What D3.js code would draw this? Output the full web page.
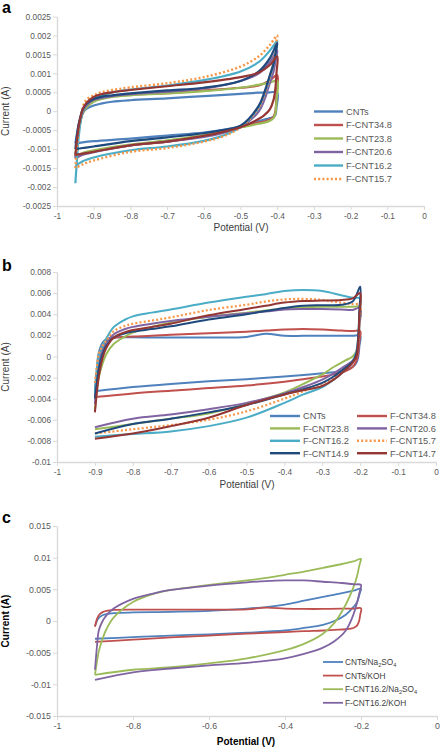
<!DOCTYPE html>
<html><head><meta charset="utf-8">
<script src="https://cdn.jsdelivr.net/npm/d3@7"></script>
<style>body{margin:0;background:#fff}svg{display:block;font-family:"Liberation Sans",Arial,sans-serif}</style>
</head><body><svg id="chart" width="442" height="750"></svg>
<script>
// ---------- Panel a (currents in mA) ----------
const aPotential = [-0.95,-0.945,-0.94,-0.93,-0.92,-0.9,-0.88,-0.85,-0.8,-0.7,-0.6,-0.5,-0.45,-0.42,-0.4,
  -0.402,-0.405,-0.41,-0.42,-0.435,-0.45,-0.5,-0.55,-0.6,-0.7,-0.8,-0.9,-0.93,-0.95];
const a_CNTs   = [-0.85,-0.55,-0.3,-0.05,0.06,0.15,0.2,0.25,0.29,0.34,0.4,0.46,0.49,0.5,0.5, 0.1,-0.1,-0.15,-0.18,-0.22,-0.26,-0.4,-0.5,-0.56,-0.64,-0.72,-0.79,-0.82,-0.85];
const a_FCNT348 = [-1.2,-0.8,-0.45,-0.05,0.12,0.28,0.35,0.4,0.44,0.48,0.55,0.62,0.68,0.82,0.95, 0.4,0.0,-0.15,-0.22,-0.27,-0.3,-0.42,-0.55,-0.65,-0.8,-0.9,-1.05,-1.12,-1.2];
const a_FCNT238 = [-1.2,-0.8,-0.45,-0.05,0.1,0.25,0.32,0.38,0.42,0.47,0.53,0.62,0.7,0.76,0.8, 0.3,-0.05,-0.18,-0.25,-0.3,-0.33,-0.43,-0.54,-0.63,-0.77,-0.88,-1.03,-1.1,-1.2];
const a_FCNT206 = [-1.25,-0.8,-0.45,-0.02,0.15,0.3,0.35,0.4,0.45,0.52,0.6,0.8,1.0,1.3,1.6, 1.45,1.3,1.05,0.75,0.3,0.0,-0.42,-0.58,-0.68,-0.8,-0.9,-1.08,-1.15,-1.25];
const a_FCNT162 = [-1.9,-1.2,-0.6,0.0,0.2,0.35,0.42,0.5,0.57,0.68,0.82,1.05,1.3,1.6,1.85, 1.7,1.5,1.25,0.9,0.45,0.1,-0.42,-0.65,-0.78,-0.93,-1.03,-1.22,-1.32,-1.45];
const a_FCNT157 = [-1.5,-0.9,-0.4,0.1,0.3,0.42,0.5,0.56,0.63,0.74,0.9,1.18,1.45,1.75,2.0, 1.85,1.6,1.3,0.9,0.45,0.1,-0.42,-0.67,-0.8,-0.97,-1.07,-1.3,-1.4,-1.5];
const a_FCNT149 = [-1.0,-0.6,-0.3,0.05,0.2,0.32,0.38,0.42,0.47,0.55,0.62,0.8,1.05,1.4,1.8, 1.65,1.5,1.25,0.95,0.5,0.15,-0.38,-0.5,-0.58,-0.69,-0.79,-0.93,-0.97,-1.0];
const a_FCNT147 = [-1.15,-0.7,-0.35,0.05,0.22,0.38,0.45,0.5,0.56,0.66,0.76,0.9,1.02,1.22,1.45, 1.0,0.6,0.3,0.05,-0.1,-0.2,-0.42,-0.55,-0.65,-0.8,-0.9,-1.07,-1.12,-1.15];
const aYTicks = [0.0025,0.002,0.0015,0.001,0.0005,0,-0.0005,-0.001,-0.0015,-0.002,-0.0025];
const aYLabels = ["0.0025","0.002","0.0015","0.001","0.0005","0","-0.0005","-0.001","-0.0015","-0.002","-0.0025"];

// ---------- Panel b (currents in mA) ----------
const bPotential = [-0.9,-0.895,-0.89,-0.88,-0.87,-0.85,-0.82,-0.8,-0.75,-0.7,-0.6,-0.5,-0.45,-0.4,-0.35,-0.3,-0.25,-0.22,-0.2,
  -0.202,-0.205,-0.21,-0.22,-0.24,-0.27,-0.3,-0.35,-0.4,-0.5,-0.6,-0.7,-0.8,-0.9];
const b_CNTs    = [-3.3,-1.2,0.3,1.3,1.65,1.8,1.82,1.82,1.8,1.8,1.8,1.85,2.15,1.95,1.95,1.95,1.95,1.95,1.95, 1.0,0.0,-0.6,-1.0,-1.3,-1.5,-1.6,-1.75,-1.9,-2.15,-2.35,-2.6,-2.9,-3.3];
const b_FCNT348 = [-3.8,-1.8,-0.2,1.0,1.5,1.75,1.85,1.9,1.95,2.05,2.2,2.35,2.45,2.55,2.6,2.55,2.45,2.4,2.4, 1.5,0.4,-0.4,-1.0,-1.4,-1.7,-1.9,-2.15,-2.4,-2.75,-3.0,-3.25,-3.5,-3.85];
const b_FCNT238 = [-5.2,-3.2,-2.0,-0.7,0.2,1.2,1.9,2.25,2.8,3.2,3.75,4.15,4.35,4.55,4.65,4.7,4.7,4.7,4.7, 3.0,1.5,0.5,0.0,-0.4,-1.0,-1.7,-2.6,-3.4,-4.5,-5.4,-5.9,-6.4,-6.9];
const b_FCNT206 = [-4.5,-2.5,-0.8,0.6,1.3,2.1,2.6,2.8,3.1,3.35,3.75,4.1,4.25,4.45,4.5,4.5,4.45,4.4,4.6, 3.0,1.2,0.2,-0.4,-0.9,-1.6,-2.2,-2.9,-3.5,-4.4,-5.0,-5.5,-5.9,-6.7];
const b_FCNT162 = [-3.5,-1.5,0.0,1.0,1.7,2.8,3.5,3.8,4.15,4.45,5.1,5.65,5.9,6.2,6.3,6.2,5.8,5.55,5.5, 4.0,2.0,0.5,-0.5,-1.3,-2.2,-2.9,-3.6,-4.4,-5.8,-6.6,-7.1,-7.35,-7.6];
const b_FCNT157 = [-2.5,-1.0,0.2,1.0,1.5,2.4,2.9,3.1,3.4,3.7,4.4,4.9,5.2,5.4,5.45,5.35,5.1,4.95,4.9, 3.5,1.5,0.3,-0.5,-1.2,-2.0,-2.6,-3.3,-4.0,-5.2,-6.0,-6.5,-6.9,-7.3];
const b_FCNT149 = [-4.0,-2.5,-1.2,0.2,1.0,1.8,2.2,2.35,2.6,2.85,3.5,4.0,4.3,4.6,4.8,4.85,4.9,5.2,6.6, 4.5,2.0,0.3,-0.5,-1.1,-1.9,-2.5,-3.1,-3.6,-4.6,-5.3,-5.9,-6.4,-7.3];
const b_FCNT147 = [-5.3,-3.5,-2.0,-0.2,0.8,1.8,2.3,2.5,2.8,3.1,3.9,4.5,4.8,5.1,5.25,5.3,5.35,5.5,6.0, 4.0,1.5,0.0,-0.6,-1.3,-2.2,-2.8,-3.2,-3.6,-4.6,-5.8,-6.6,-7.3,-7.8];
const bYTicks = [0.008,0.006,0.004,0.002,0,-0.002,-0.004,-0.006,-0.008,-0.01];
const bYLabels = ["0.008","0.006","0.004","0.002","0","-0.002","-0.004","-0.006","-0.008","-0.01"];

// ---------- Panel c (currents in mA) ----------
const cPotential = [-0.9,-0.895,-0.89,-0.88,-0.87,-0.85,-0.8,-0.75,-0.7,-0.6,-0.5,-0.45,-0.4,-0.35,-0.3,-0.25,-0.22,-0.2,
  -0.202,-0.205,-0.21,-0.22,-0.24,-0.27,-0.3,-0.35,-0.4,-0.5,-0.6,-0.7,-0.8,-0.9];
const c_CNTs_Na2SO4 = [-0.8,0.0,0.5,0.9,1.1,1.25,1.35,1.4,1.45,1.6,1.95,2.2,2.6,3.2,3.8,4.4,4.8,5.1, 4.6,4.0,3.0,2.2,1.0,0.0,-0.6,-1.1,-1.5,-1.85,-2.1,-2.3,-2.55,-2.8];
const c_CNTs_KOH    = [-0.9,0.3,0.9,1.4,1.6,1.75,1.8,1.8,1.8,1.8,1.85,2.1,1.95,1.9,1.9,1.95,1.95,2.0, 1.0,0.0,-0.7,-1.1,-1.3,-1.4,-1.5,-1.6,-1.75,-2.0,-2.3,-2.6,-2.95,-3.3];
const c_FCNT162_Na2SO4 = [-8.5,-6.5,-4.8,-2.8,-1.3,0.6,3.0,4.2,4.9,5.7,6.4,6.8,7.3,7.8,8.4,9.0,9.4,9.8, 9.3,8.6,7.2,5.3,2.6,-0.3,-2.0,-3.6,-4.6,-5.9,-6.7,-7.3,-7.7,-8.5];
const c_FCNT162_KOH = [-7.7,-4.1,-1.5,0.0,0.9,2.0,3.5,4.3,4.9,5.6,6.1,6.3,6.4,6.4,6.2,6.0,5.8,5.7, 5.0,4.2,3.0,1.0,-1.5,-3.2,-4.2,-5.2,-5.9,-6.6,-7.0,-7.5,-8.1,-9.3];
const cYTicks = [0.015,0.01,0.005,0,-0.005,-0.01,-0.015];
const cYLabels = ["0.015","0.01","0.005","0","-0.005","-0.01","-0.015"];

const abXTicks = [-1,-0.9,-0.8,-0.7,-0.6,-0.5,-0.4,-0.3,-0.2,-0.1,0];
const abXLabels = ["-1","-0.9","-0.8","-0.7","-0.6","-0.5","-0.4","-0.3","-0.2","-0.1","0"];
const cXTicks = [-1,-0.8,-0.6,-0.4,-0.2,0];
const cXLabels = ["-1","-0.8","-0.6","-0.4","-0.2","0"];

const C = {blue:"#4f81bd",red:"#c0504d",green:"#9bbb59",purple:"#8064a2",cyan:"#4bacc6",orange:"#f79646",navy:"#1f497d",maroon:"#943634"};

const svg = d3.select("#chart");

function panel(o){
  const x = d3.scaleLinear().domain([-1,0]).range(o.xr);
  const y = d3.scaleLinear().domain(o.yd).range(o.yr);
  const g = svg.append("g");
  const yb = o.yr[0];
  const ya = g.append("g").attr("transform",`translate(${o.xr[0]},0)`)
    .call(d3.axisLeft(y).tickValues(o.yTicks).tickFormat((d,i)=>o.yLabels[i]).tickSize(4).tickSizeOuter(0).tickPadding(2));
  const xa = g.append("g").attr("transform",`translate(0,${yb})`)
    .call(d3.axisBottom(x).tickValues(o.xTicks).tickFormat((d,i)=>o.xLabels[i]).tickSize(4).tickSizeOuter(0).tickPadding(3));
  [ya,xa].forEach(a=>{
    a.select(".domain").attr("stroke","#d9d9d9").attr("stroke-width",1.4);
    a.selectAll(".tick line").attr("stroke","#d9d9d9").attr("stroke-width",1);
    a.selectAll("text").attr("fill","#595959").attr("font-size",o.tickFs).attr("font-family","Liberation Sans, Arial, sans-serif");
  });
  const line = d3.line().x(d=>x(d[0])).y(d=>y(d[1]*1e-3)).curve(d3.curveCatmullRom.alpha(0.5));
  o.series.forEach(s=>{
    g.append("path").datum(d3.zip(o.V, s.I)).attr("d",line)
      .attr("fill","none").attr("stroke",s.c).attr("stroke-width",s.dot?o.sw+0.2:o.sw)
      .attr("stroke-dasharray",s.dot?"2,2.2":null).attr("stroke-linejoin","round");
  });
  g.append("text").attr("x",o.titleX).attr("y",o.titleY).attr("text-anchor","middle")
    .attr("font-size",10).attr("font-weight",o.bold?"bold":"normal").attr("fill",o.bold?"#000":"#404040").text("Potential (V)");
  g.append("text").attr("transform",`translate(9,${(o.yr[0]+o.yr[1])/2}) rotate(-90)`).attr("text-anchor","middle")
    .attr("font-size",10).attr("font-weight",o.bold?"bold":"normal").attr("fill",o.bold?"#000":"#404040").text("Current (A)");
  g.append("text").attr("x",2).attr("y",o.labelY).attr("font-size",16).attr("font-weight","bold").attr("fill","#000").text(o.label);
  return {x,y,g};
}

// Panel a
const aSeries = [
  {n:"CNTs",I:a_CNTs,c:C.blue},{n:"F-CNT34.8",I:a_FCNT348,c:C.red},{n:"F-CNT23.8",I:a_FCNT238,c:C.green},
  {n:"F-CNT20.6",I:a_FCNT206,c:C.purple},{n:"F-CNT16.2",I:a_FCNT162,c:C.cyan},{n:"F-CNT15.7",I:a_FCNT157,c:C.orange,dot:true},
  {n:"F-CNT14.9",I:a_FCNT149,c:C.navy},{n:"F-CNT14.7",I:a_FCNT147,c:C.maroon}];
const pa = panel({xr:[57,424],yd:[-0.0025,0.0025],yr:[206,16.5],yTicks:aYTicks,yLabels:aYLabels,xTicks:abXTicks,xLabels:abXLabels,
  tickFs:8.3,V:aPotential,series:aSeries,sw:2.2,titleX:241,titleY:231,label:"a",labelY:13});
aSeries.slice(0,6).forEach((s,i)=>{
  const yy = 111.5 + i*13.5;
  pa.g.append("line").attr("x1",314).attr("x2",343).attr("y1",yy).attr("y2",yy).attr("stroke",s.c)
    .attr("stroke-width",2.4).attr("stroke-dasharray",s.dot?"2,2.2":null);
  pa.g.append("text").attr("x",346).attr("y",yy+3.3).attr("font-size",9.3).attr("fill","#595959").text(s.n);
});

// Panel b
const bSeries = [
  {n:"CNTs",I:b_CNTs,c:C.blue},{n:"F-CNT34.8",I:b_FCNT348,c:C.red},{n:"F-CNT23.8",I:b_FCNT238,c:C.green},
  {n:"F-CNT20.6",I:b_FCNT206,c:C.purple},{n:"F-CNT16.2",I:b_FCNT162,c:C.cyan},{n:"F-CNT15.7",I:b_FCNT157,c:C.orange,dot:true},
  {n:"F-CNT14.9",I:b_FCNT149,c:C.navy},{n:"F-CNT14.7",I:b_FCNT147,c:C.maroon}];
const pb = panel({xr:[57,436],yd:[-0.01,0.008],yr:[462,272],yTicks:bYTicks,yLabels:bYLabels,xTicks:abXTicks,xLabels:abXLabels,
  tickFs:8.3,V:bPotential,series:bSeries,sw:2.0,titleX:247,titleY:488,label:"b",labelY:271});
bSeries.forEach((s,i)=>{
  const col = i%2, row = Math.floor(i/2);
  const yy = 416 + row*12.4, lx = col? 357:270;
  pb.g.append("line").attr("x1",lx).attr("x2",lx+30).attr("y1",yy).attr("y2",yy).attr("stroke",s.c)
    .attr("stroke-width",2.4).attr("stroke-dasharray",s.dot?"2,2.2":null);
  pb.g.append("text").attr("x",lx+33).attr("y",yy+3.3).attr("font-size",9.3).attr("fill","#595959").text(s.n);
});

// Panel c
const cSeries = [
  {n:["CNTs/Na","2","SO","4"],I:c_CNTs_Na2SO4,c:C.blue},{n:["CNTs/KOH"],I:c_CNTs_KOH,c:C.red},
  {n:["F-CNT16.2/Na","2","SO","4"],I:c_FCNT162_Na2SO4,c:C.green},{n:["F-CNT16.2/KOH"],I:c_FCNT162_KOH,c:C.purple}];
const pc = panel({xr:[57,437],yd:[-0.015,0.015],yr:[716,526],yTicks:cYTicks,yLabels:cYLabels,xTicks:cXTicks,xLabels:cXLabels,
  tickFs:8.8,V:cPotential,series:cSeries,sw:1.8,titleX:246,titleY:745,label:"c",labelY:523,bold:true});
cSeries.forEach((s,i)=>{
  const yy = 662 + i*13.6;
  pc.g.append("line").attr("x1",323).attr("x2",343).attr("y1",yy).attr("y2",yy).attr("stroke",s.c).attr("stroke-width",1.8);
  const t = pc.g.append("text").attr("x",345).attr("y",yy+3).attr("font-size",8.3).attr("fill","#404040");
  s.n.forEach((part,j)=>{
    const sub = j%2===1;
    t.append("tspan").attr("font-size",sub?5.6:8.3).attr("dy",sub?1.6:(j>0?-1.6:0)).text(part);
  });
});
</script></body></html>
